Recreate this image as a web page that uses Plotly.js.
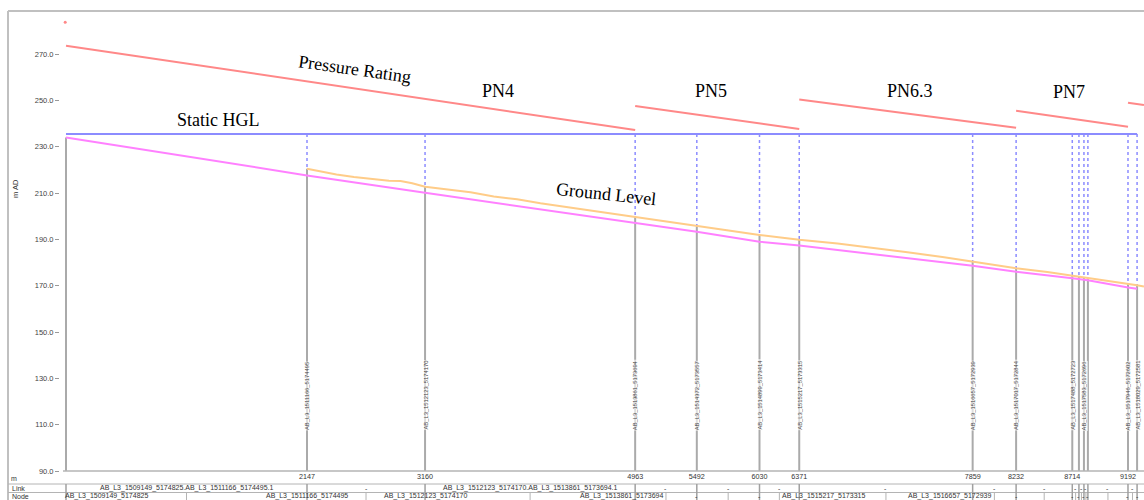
<!DOCTYPE html>
<html><head><meta charset="utf-8">
<script src="https://cdn.plot.ly/plotly-3.0.1.min.js"></script>
<style>html,body{margin:0;padding:0;background:#fff}#chart{width:1144px;height:500px}</style>
</head><body><div id="chart"></div>
<script>
// ---------------- data ----------------
const nodeDist = [79, 2147, 3160, 4963, 5492, 6030, 6371, 7859, 8232, 8714, 8771, 8814, 8848, 9192, 9270];
const nodeNames = ['AB_L3_1509149_5174825','AB_L3_1511166_5174495','AB_L3_1512123_5174170','AB_L3_1513861_5173694',
  'AB_L3_1514372_5173557','AB_L3_1514899_5173414','AB_L3_1515217_5173315','AB_L3_1516657_5172939',
  'AB_L3_1517017_5172844','AB_L3_1517488_5172723','AB_L3_1517537_5172710','AB_L3_1517583_5172696',
  'AB_L3_1517610_5172689','AB_L3_1517946_5172602','AB_L3_1518029_5172581'];
const nodeLabelShown = [false,true,true,true,true,true,true,true,true,true,false,true,false,true,true];
const groundLevel = [234.0, 217.6, 210.1, 197.2, 193.3, 189.0, 187.3, 178.6, 176.0, 173.2, 172.8, 172.5, 172.3, 169.2, 168.7];
const hglDist = [79, 9270];
const hglVal = [235.5, 235.5];
const headDist = [2147, 2250, 2400, 2550, 2700, 2850, 2950, 3050, 3160, 3350, 3550, 3750, 3950, 4150, 4350, 4550, 4750,
  4963, 5200, 5492, 5750, 6030, 6371, 6700, 7000, 7300, 7600, 7859, 8232, 8500, 8714, 8771, 8814, 8848, 9000, 9192, 9270, 9329];
const headVal = [220.5, 219.4, 218.0, 216.9, 216.1, 215.3, 215.2, 214.2, 212.7, 211.6, 210.3, 208.5, 207.3, 205.6, 204.1, 202.6, 201.3,
  199.8, 197.9, 195.6, 193.9, 191.9, 189.8, 188.2, 186.4, 184.4, 182.4, 180.4, 177.5, 175.9, 174.3, 174.0, 173.7, 173.5, 172.4, 170.8, 170.2, 169.6];
const pressureDist = [79, 4963, null, 4963, 6371, null, 6371, 8232, null, 8232, 9192, null, 9192, 9329];
const pressureVal  = [273.6, 237.2, null, 247.6, 237.6, null, 250.4, 238.2, null, 245.5, 238.6, null, 249.0, 248.0];
const spikeDist = [72];
const spikeVal = [283.7];
const curveLabels = ['Pressure Rating', 'PN4', 'PN5', 'PN6.3', 'PN7', 'Static HGL', 'Ground Level'];
const tickDist = [2147, 3160, 4963, 5492, 6030, 6371, 7859, 8232, 8714, 9192];
const yTickVals = [90, 110, 130, 150, 170, 190, 210, 230, 250, 270];
const linkNames = nodeNames.slice(0, -1).map((n, i) => n + '.' + nodeNames[i + 1] + '.1');

// ---------------- layout helpers ----------------
const W = 1144, H = 500, L = 60, R = 0, T = 11, B = 29;
const plotW = W - L - R, plotH = H - T - B;
const xRange = [27.5, 9329.4];
const yRange = [90, 288.56];
const px = d => L + (d - xRange[0]) / (xRange[1] - xRange[0]) * plotW;
const toD = p => xRange[0] + (p - L) / plotW * (xRange[1] - xRange[0]);
const pX = p => (p - L) / plotW;
const pY = p => (H - B - p) / plotH;

const headAt = d => { const i = headDist.indexOf(d); return i >= 0 ? headVal[i] : null; };

// vertical lines
const gx = [], gy = [], bx = [], by = [];
nodeDist.forEach((d, i) => {
  const h = headAt(d);
  const top = h !== null ? Math.max(h, groundLevel[i]) : groundLevel[i];
  gx.push(d, d, null); gy.push(top, yRange[0], null);
  if (i > 0) { bx.push(d, d, null); by.push(hglVal[0], top, null); }
});

const traces = [
  {x: gx, y: gy, mode: 'lines', line: {color: '#aaaaaa', width: 2}, hoverinfo: 'skip'},
  {x: bx, y: by, mode: 'lines', line: {color: '#8c8cff', width: 1.5, dash: 'dot'}, hoverinfo: 'skip'},
  {x: nodeDist, y: groundLevel, mode: 'lines', line: {color: '#ff80ff', width: 2}},
  {x: headDist, y: headVal, mode: 'lines', line: {color: '#ffcc88', width: 2}},
  {x: hglDist, y: hglVal, mode: 'lines', line: {color: '#8c8cff', width: 2}},
  {x: pressureDist, y: pressureVal, mode: 'lines', connectgaps: false, line: {color: '#ff8888', width: 2}},
  {x: spikeDist, y: spikeVal, mode: 'markers', marker: {color: '#ff8888', size: 3}}
];

const gray = '#b4b4b4';
const shapes = [
  {type: 'line', xref: 'paper', yref: 'paper', x0: pX(8), x1: 1.02, y0: pY(11), y1: pY(11), line: {color: '#c0c0c0', width: 2}},
  {type: 'line', xref: 'paper', yref: 'paper', x0: pX(8), x1: pX(8), y0: pY(11), y1: pY(502), line: {color: '#c0c0c0', width: 2}},
  {type: 'line', xref: 'paper', yref: 'paper', x0: pX(63), x1: 1.01, y0: pY(471), y1: pY(471), line: {color: gray, width: 1.5}},
  {type: 'line', xref: 'paper', yref: 'paper', x0: pX(8), x1: 1.01, y0: pY(484), y1: pY(484), line: {color: gray, width: 1}},
  {type: 'line', xref: 'paper', yref: 'paper', x0: pX(8), x1: 1.01, y0: pY(492.5), y1: pY(492.5), line: {color: gray, width: 1}}
];
nodeDist.forEach(d => shapes.push({type: 'line', xref: 'x', yref: 'paper', x0: d, x1: d, y0: pY(484), y1: pY(502), line: {color: '#a0a0a0', width: 1.5}}));
const mids = nodeDist.slice(0, -1).map((d, i) => (d + nodeDist[i + 1]) / 2);
mids.forEach(m => shapes.push({type: 'line', xref: 'x', yref: 'paper', x0: m, x1: m, y0: pY(492.5), y1: pY(502), line: {color: gray, width: 1}}));

const sans = 'Liberation Sans, Arial, sans-serif';
const serif = 'Liberation Serif, Times New Roman, serif';
const ann = [];
const big = (text, x, y, ang) => ann.push({text, x, y, xref: 'x', yref: 'y', showarrow: false, textangle: ang || 0,
  font: {family: serif, size: 18, color: '#000'}, xanchor: 'center', yanchor: 'middle'});
big(curveLabels[0], toD(354), 263.6, 8);
big(curveLabels[1], toD(498), 254.0);
big(curveLabels[2], toD(711), 254.0);
big(curveLabels[3], toD(910), 254.0);
big(curveLabels[4], toD(1069), 253.4);
big(curveLabels[5], toD(218), 241.5);
big(curveLabels[6], toD(606), 209.6, 6);

const rowY = 496;
const small = (text, x, y, xref, xanchor, extra) => ann.push(Object.assign({text, x, y, xref, yref: 'paper', showarrow: false,
  xanchor: xanchor || 'center', yanchor: 'middle', borderpad: 0, font: {family: sans, size: 7, color: '#333'}}, extra || {}));
small('m AD', pX(15), pY(189), 'paper', 'center', {textangle: -90, font: {family: sans, size: 7.5, color: '#333'}});
small('m', pX(10), pY(478), 'paper', 'left');
small('Link', pX(11), pY(488.3), 'paper', 'left');
small('Node', pX(11), pY(rowY), 'paper', 'left');
nodeDist.forEach((d, i) => {
  if (nodeLabelShown[i]) ann.push({text: nodeNames[i], x: d, y: pY(431), xref: 'x', yref: 'paper', showarrow: false,
    textangle: -90, font: {family: sans, size: 5.8, color: '#444'}, bgcolor: 'rgba(255,255,255,0.6)', borderpad: 0});
});
const charW = 3.85;
linkNames.forEach((n, i) => {
  const w = px(nodeDist[i + 1]) - px(nodeDist[i]);
  const txt = n.length * charW < w - 6 ? n : '-';
  small(txt, mids[i], pY(488.3), 'x', 'center');
});
nodeNames.forEach((n, i) => {
  const left = i === 0 ? px(nodeDist[0]) - 4 : px(mids[i - 1]);
  const right = i === nodeNames.length - 1 ? W : px(mids[i]);
  const tw = n.length * charW;
  if (tw > right - left - 4) { small('-', nodeDist[i], pY(rowY), 'x', 'center'); return; }
  const c = px(nodeDist[i]);
  if (c - tw / 2 < left + 2) small(n, toD(left + 2), pY(rowY), 'x', 'left');
  else if (c + tw / 2 > right - 2) small(n, toD(right - 2), pY(rowY), 'x', 'right');
  else small(n, nodeDist[i], pY(rowY), 'x', 'center');
});

const layout = {
  width: W, height: H, margin: {l: L, r: R, t: T, b: B, pad: 0},
  paper_bgcolor: '#ffffff', plot_bgcolor: '#ffffff', showlegend: false,
  xaxis: {range: xRange, showgrid: false, zeroline: false, showline: false, tickmode: 'array',
    tickvals: tickDist, ticktext: tickDist.map(String), ticks: '', tickfont: {family: sans, size: 7.2, color: '#333'}},
  yaxis: {range: yRange, showgrid: false, zeroline: false, showline: false, tickmode: 'array',
    tickvals: yTickVals, ticktext: yTickVals.map(v => v.toFixed(1)), ticks: 'outside', ticklen: 4, tickwidth: 1,
    tickcolor: '#999', tickfont: {family: sans, size: 7.5, color: '#444'}},
  shapes, annotations: ann
};
Plotly.newPlot('chart', traces, layout, {displayModeBar: false, staticPlot: true});
</script></body></html>
